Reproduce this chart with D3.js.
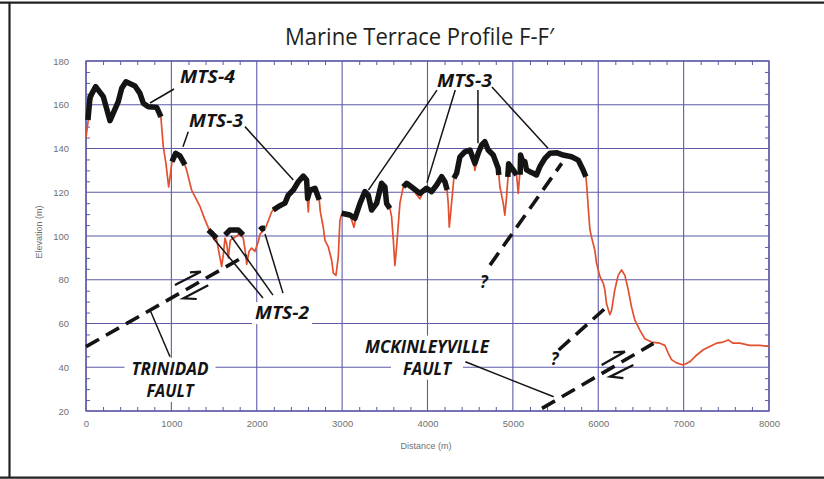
<!DOCTYPE html>
<html>
<head>
<meta charset="utf-8">
<script src="https://cdn.jsdelivr.net/npm/d3@7"></script>
<style>
  html, body { margin: 0; padding: 0; background: #fff; }
  svg { display: block; }
</style>
</head>
<body>
<svg id="chart" width="824" height="479"></svg>
<script>
// ---- Data -------------------------------------------------------------
const distanceTicks = [0, 1000, 2000, 3000, 4000, 5000, 6000, 7000, 8000];
const elevationTicks = [20, 40, 60, 80, 100, 120, 140, 160, 180];

// Topographic profile F-F' : [distance (m), elevation (m)]
const profile = [
  [0,145],[23,152],[47,160],[113,168],[160,166],[203,163],[281,152.5],[330,156],[378,161],[418,167],
  [468,170],[520,170],[574,168.5],[632,165],[671,161],[730,159],[828,158.5],[878,154],[905,141],[937,133],
  [968,122.5],[985,127],[1007,134],[1050,137.5],[1100,136.5],[1159,132.5],[1179,130],[1237,121],[1276,118],[1335,113.5],
  [1393,107.5],[1452,102],[1480,101],[1530,98.5],[1560,92],[1589,86],[1610,92],[1628,99],[1650,96],[1667,90],
  [1690,98],[1725,99],[1765,100],[1800,101],[1842,99],[1862,94],[1882,87],[1910,93],[1940,94.5],[1979,93],
  [2018,97.5],[2040,101],[2096,103],[2135,107],[2174,111],[2193,112],[2252,113],[2330,115],[2369,118.5],[2428,121],
  [2486,124.5],[2545,127],[2575,126],[2590,118],[2604,111],[2615,118],[2623,121],[2682,121.5],[2732,116.5],[2745,111],
  [2779,104],[2799,98],[2838,95],[2877,89],[2897,83],[2928,82],[2955,90.5],[2974,107],[2994,110],[3050,109.5],
  [3091,109.5],[3115,107],[3138,104],[3160,108],[3209,115],[3267,120],[3306,118.5],[3345,112],[3404,115],[3462,124],
  [3501,122.5],[3521,115],[3560,112.5],[3579,109],[3600,98],[3618,86.5],[3638,95],[3677,115],[3716,122.5],[3755,124],
  [3833,121.5],[3870,119],[3911,117],[3950,120],[3989,121.5],[4048,120],[4107,123],[4166,127],[4204,125],[4224,123],
  [4243,115],[4255,104],[4282,115],[4309,126.5],[4341,128.5],[4380,136],[4438,138.5],[4497,139],[4530,136],[4555,130],
  [4594,137.5],[4634,141.5],[4672,143],[4711,139],[4770,137],[4828,131],[4848,122.5],[4887,115],[4906,109.5],[4926,118],
  [4946,128.5],[5004,130],[5043,128],[5063,119.5],[5080,128],[5090,134],[5121,133],[5140,134],[5160,130],[5199,129.5],
  [5238,128.5],[5277,128],[5316,131.5],[5375,135.5],[5433,137.5],[5511,138],[5589,137],[5687,136],[5765,134.5],[5823,130],
  [5855,127],[5863,124],[5882,113.5],[5902,103],[5921,99.5],[5960,93.5],[5980,87.5],[6019,81.5],[6058,78.5],[6077,75.5],
  [6097,69],[6136,64],[6156,66],[6194,75.5],[6233,82],[6273,84.5],[6312,82],[6351,75.5],[6390,67.5],[6429,61.5],
  [6487,57],[6546,53],[6624,51.5],[6721,51],[6780,50],[6819,46.5],[6858,43.5],[6917,42],[6995,41],[7073,42.5],
  [7151,45.5],[7229,48],[7307,49.5],[7385,51],[7463,51.5],[7522,52.5],[7580,51],[7658,51],[7775,50],[7893,50],
  [8000,49.5]
];

// Marine terrace surfaces traced along the profile
const mts4 = [
  [[23,153],[47,163.5],[113,168.3],[203,163.7],[281,152.7],[378,161.4],[418,167.5],[468,170.5],[574,168.6],
   [632,165.2],[671,160.7],[730,159.1],[828,158.8],[878,154.5]]
];
const mts3 = [
  [[1007,134],[1050,137.8],[1100,136.6],[1159,132.5]],
  [[2193,111.9],[2252,113.4],[2330,115],[2369,118.7],[2428,121],[2486,124.8],[2545,127.4],[2584,125.6],
   [2596,117.2],[2623,121],[2682,121.8],[2732,116.5]],
  [[2994,110.4],[3091,109.6],[3150,108.1],[3209,114.9],[3267,120.3],[3306,118.7],[3345,111.9],[3404,114.9],
   [3462,124.1],[3501,122.5],[3521,114.9],[3560,112.6]],
  [[3716,122.5],[3755,124.1],[3833,121.8],[3911,119.5],[3989,121.8],[4048,120.3],[4107,123.3],[4166,127.1],
   [4204,124.8],[4230,121]],
  [[4309,126.4],[4341,128.7],[4380,136.2],[4438,138.5],[4497,139.3],[4555,133.2],[4594,137.8],[4634,141.6],
   [4672,143.1],[4711,139.3],[4770,137],[4828,131],[4835,127.9]],
  [[4940,127],[4950,133],[5004,130.2],[5043,127.9]],
  [[5085,128],[5090,137],[5121,133.2],[5140,134],[5160,130.2],[5199,129.4],[5238,128.7],[5277,127.9],
   [5316,131.7],[5375,135.5],[5433,137.8],[5511,138.1],[5589,137],[5687,136.2],[5765,134.7],[5823,130.2],[5855,127.1]]
];
const mts2 = [
  [[1433,102.7],[1480,101],[1530,99]],
  [[1628,100.5],[1686,102.7],[1783,102.7],[1842,100.5]],
  [[2037,102.7],[2060,103.5],[2096,103.5]]
];

// Fault traces (distance, elevation)
const trinidadFault = [[0,49.4],[1882,91.3]];
const mckinleyvilleFault = [[5341,21.2],[6647,50.9]];
const inferredFaults = [
  [[4732,86.7],[5572,133.2]],
  [[5537,47.9],[6102,67.7]]
];
// Half-arrow slip symbols along each fault
const slipArrows = [
  [[1042,77.6],[1345,83.7],[1218,83.4]],
  [[1297,71.2],[1140,71.5],[1432,77.5]],
  [[6040,41.0],[6313,47.1],[6176,46.8]],
  [[6294,35.0],[6138,35.7],[6411,41.0]]
];

// ---- Layout -----------------------------------------------------------
const W = 824, H = 479;
const plot = { left: 86, right: 769, top: 61, bottom: 411 };
const gridColor = '#5d5ba8';
const ink = '#141414';

const x = d3.scaleLinear().domain([0, 8000]).range([plot.left, plot.right]);
const y = d3.scaleLinear().domain([20, 180]).range([plot.bottom, plot.top]);
const line = d3.line().x(d => x(d[0])).y(d => y(d[1]));

const svg = d3.select('#chart');

// Page frame
svg.append('line').attr('x1', 0).attr('x2', W).attr('y1', 2.7).attr('y2', 2.7)
  .attr('stroke', '#222').attr('stroke-width', 2.2);
svg.append('line').attr('x1', 0).attr('x2', W).attr('y1', 477.7).attr('y2', 477.7)
  .attr('stroke', '#222').attr('stroke-width', 2.2);
svg.append('line').attr('x1', 9.5).attr('x2', 9.5).attr('y1', 2).attr('y2', 478)
  .attr('stroke', '#222').attr('stroke-width', 2.2);

// Title
svg.append('text')
  .attr('x', 419.5).attr('y', 45)
  .attr('text-anchor', 'middle')
  .attr('font-family', '"Open Sans", "Noto Sans", sans-serif')
  .attr('font-size', 23.5)
  .attr('fill', '#231f20')
  .attr('textLength', 269).attr('lengthAdjust', 'spacingAndGlyphs')
  .text('Marine Terrace Profile F-F\u2032');

// ---- Grid and axes ----------------------------------------------------
const gridG = svg.append('g');
gridG.selectAll('line.vx').data(distanceTicks).join('line')
  .attr('x1', d => x(d)).attr('x2', d => x(d))
  .attr('y1', plot.top).attr('y2', plot.bottom)
  .attr('stroke', gridColor).attr('stroke-width', 1.1);
gridG.selectAll('line.hy').data(elevationTicks).join('line')
  .attr('x1', plot.left).attr('x2', plot.right)
  .attr('y1', d => y(d)).attr('y2', d => y(d))
  .attr('stroke', gridColor).attr('stroke-width', 1.1);

const minorX = d3.range(0, 8001, 200).filter(v => v % 1000 !== 0);
const minorY = d3.range(20, 181, 5).filter(v => v % 20 !== 0);
function styleMinor(g) {
  g.select('.domain').remove();
  g.selectAll('.tick line').attr('stroke', gridColor).attr('stroke-width', 1);
  g.selectAll('.tick text').remove();
}
svg.append('g').attr('transform', `translate(0,${plot.bottom})`)
  .call(d3.axisBottom(x).tickValues(minorX).tickSize(-4)).call(styleMinor);
svg.append('g').attr('transform', `translate(0,${plot.top})`)
  .call(d3.axisTop(x).tickValues(minorX).tickSize(-4)).call(styleMinor);
svg.append('g').attr('transform', `translate(${plot.left},0)`)
  .call(d3.axisLeft(y).tickValues(minorY).tickSize(-4)).call(styleMinor);
svg.append('g').attr('transform', `translate(${plot.right},0)`)
  .call(d3.axisRight(y).tickValues(minorY).tickSize(-4)).call(styleMinor);

const tickFont = '"Liberation Sans", Arial, sans-serif';
const xAxis = svg.append('g').attr('transform', `translate(0,${plot.bottom})`)
  .call(d3.axisBottom(x).tickValues(distanceTicks).tickSize(0).tickPadding(9).tickFormat(d3.format('d')));
const yAxis = svg.append('g').attr('transform', `translate(${plot.left},0)`)
  .call(d3.axisLeft(y).tickValues(elevationTicks).tickSize(0).tickPadding(17).tickFormat(d3.format('d')));
[xAxis, yAxis].forEach(g => {
  g.select('.domain').remove();
  g.selectAll('.tick text').attr('font-family', tickFont).attr('font-size', 9.5).attr('fill', '#707070');
});

// Plot frame
svg.append('rect')
  .attr('x', plot.left).attr('y', plot.top)
  .attr('width', plot.right - plot.left).attr('height', plot.bottom - plot.top)
  .attr('fill', 'none').attr('stroke', gridColor).attr('stroke-width', 1.4);

svg.append('text')
  .attr('x', 426).attr('y', 449).attr('text-anchor', 'middle')
  .attr('font-family', tickFont).attr('font-size', 9).attr('fill', '#707070')
  .text('Distance (m)');
svg.append('text')
  .attr('transform', 'translate(42,232) rotate(-90)').attr('text-anchor', 'middle')
  .attr('font-family', tickFont).attr('font-size', 9).attr('fill', '#707070')
  .text('Elevation (m)');

// ---- Annotation labels (white backing hides gridlines) ----------------
const labelFont = '"Open Sans", "Noto Sans", sans-serif';
const labels = [
  { lines: ['MTS-4'], d: 1423, e: 169.9, widths: [55], pad: 3 },
  { lines: ['MTS-3'], d: 1523, e: 149.8, widths: [54], pad: 3 },
  { lines: ['MTS-3'], d: 4433, e: 168.1, widths: [55], pad: 3 },
  { lines: ['MTS-2'], d: 2296, e: 62.0, widths: [54], pad: 3 },
  { lines: ['TRINIDAD', 'FAULT'], d: 984, e: 36.5, widths: [77, 47], pad: 7 },
  { lines: ['MCKINLEYVILLE', 'FAULT'], d: 3994, e: 46.7, widths: [124, 48], pad: 12 }
];
const lineGap = 22;
const bgLayer = svg.append('g');
const lineLayer = svg.append('g');
const textLayer = svg.append('g');

labels.forEach(lb => {
  lb.lines.forEach((t, i) => {
    const cx = x(lb.d), by = y(lb.e) + i * lineGap, w = lb.widths[i];
    bgLayer.append('rect')
      .attr('x', cx - w / 2 - lb.pad).attr('y', by - 17)
      .attr('width', w + 2 * lb.pad).attr('height', 22)
      .attr('fill', '#fff');
    textLayer.append('text')
      .attr('x', cx).attr('y', by).attr('text-anchor', 'middle')
      .attr('font-family', labelFont).attr('font-weight', 700).attr('font-style', 'italic')
      .attr('font-size', 17.5).attr('fill', ink)
      .attr('textLength', w).attr('lengthAdjust', 'spacingAndGlyphs')
      .text(t);
  });
});

// Question marks on inferred fault traces
[[4662, 76.2], [5488, 41]].forEach(p => {
  textLayer.append('text')
    .attr('x', x(p[0])).attr('y', y(p[1])).attr('text-anchor', 'middle')
    .attr('font-family', labelFont).attr('font-weight', 700).attr('font-style', 'italic')
    .attr('font-size', 17).attr('fill', ink).text('?');
});

// ---- Profile and terraces ---------------------------------------------
lineLayer.append('path').datum(profile)
  .attr('d', line).attr('fill', 'none')
  .attr('stroke', '#e2502f').attr('stroke-width', 1.7).attr('stroke-linejoin', 'round');

lineLayer.selectAll('path.terrace').data([...mts4, ...mts3, ...mts2]).join('path')
  .attr('class', 'terrace')
  .attr('d', line).attr('fill', 'none')
  .attr('stroke', ink).attr('stroke-width', 5.5)
  .attr('stroke-linejoin', 'round').attr('stroke-linecap', 'butt');

// Faults (dashed)
lineLayer.selectAll('path.fault').data([trinidadFault, mckinleyvilleFault, ...inferredFaults]).join('path')
  .attr('class', 'fault')
  .attr('d', line).attr('fill', 'none')
  .attr('stroke', ink).attr('stroke-width', 3.6).attr('stroke-dasharray', '15,8');

lineLayer.selectAll('path.slip').data(slipArrows).join('path')
  .attr('class', 'slip')
  .attr('d', line).attr('fill', 'none')
  .attr('stroke', ink).attr('stroke-width', 2.2).attr('stroke-linejoin', 'miter');

// Leader lines from labels to features
const leaders = [
  [[750,160.8],[1031,167.2]],
  [[1136,140.8],[1198,147.7]],
  [[1862,150],[2428,125.6]],
  [[4111,166.7],[3307,121]],
  [[4325,166.7],[3994,124.4]],
  [[4591,166.7],[4591,142.4]],
  [[4755,168.1],[5411,140.1]],
  [[1488,99.1],[2073,71.7]],
  [[1698,100],[2190,73]],
  [[2097,100.9],[2307,73.9]],
  [[984,44.8],[750,66.2]],
  [[4443,42.5],[5478,26.5]]
];
lineLayer.selectAll('path.leader').data(leaders).join('path')
  .attr('class', 'leader')
  .attr('d', line).attr('fill', 'none')
  .attr('stroke', ink).attr('stroke-width', 1.5);
</script>
</body>
</html>
